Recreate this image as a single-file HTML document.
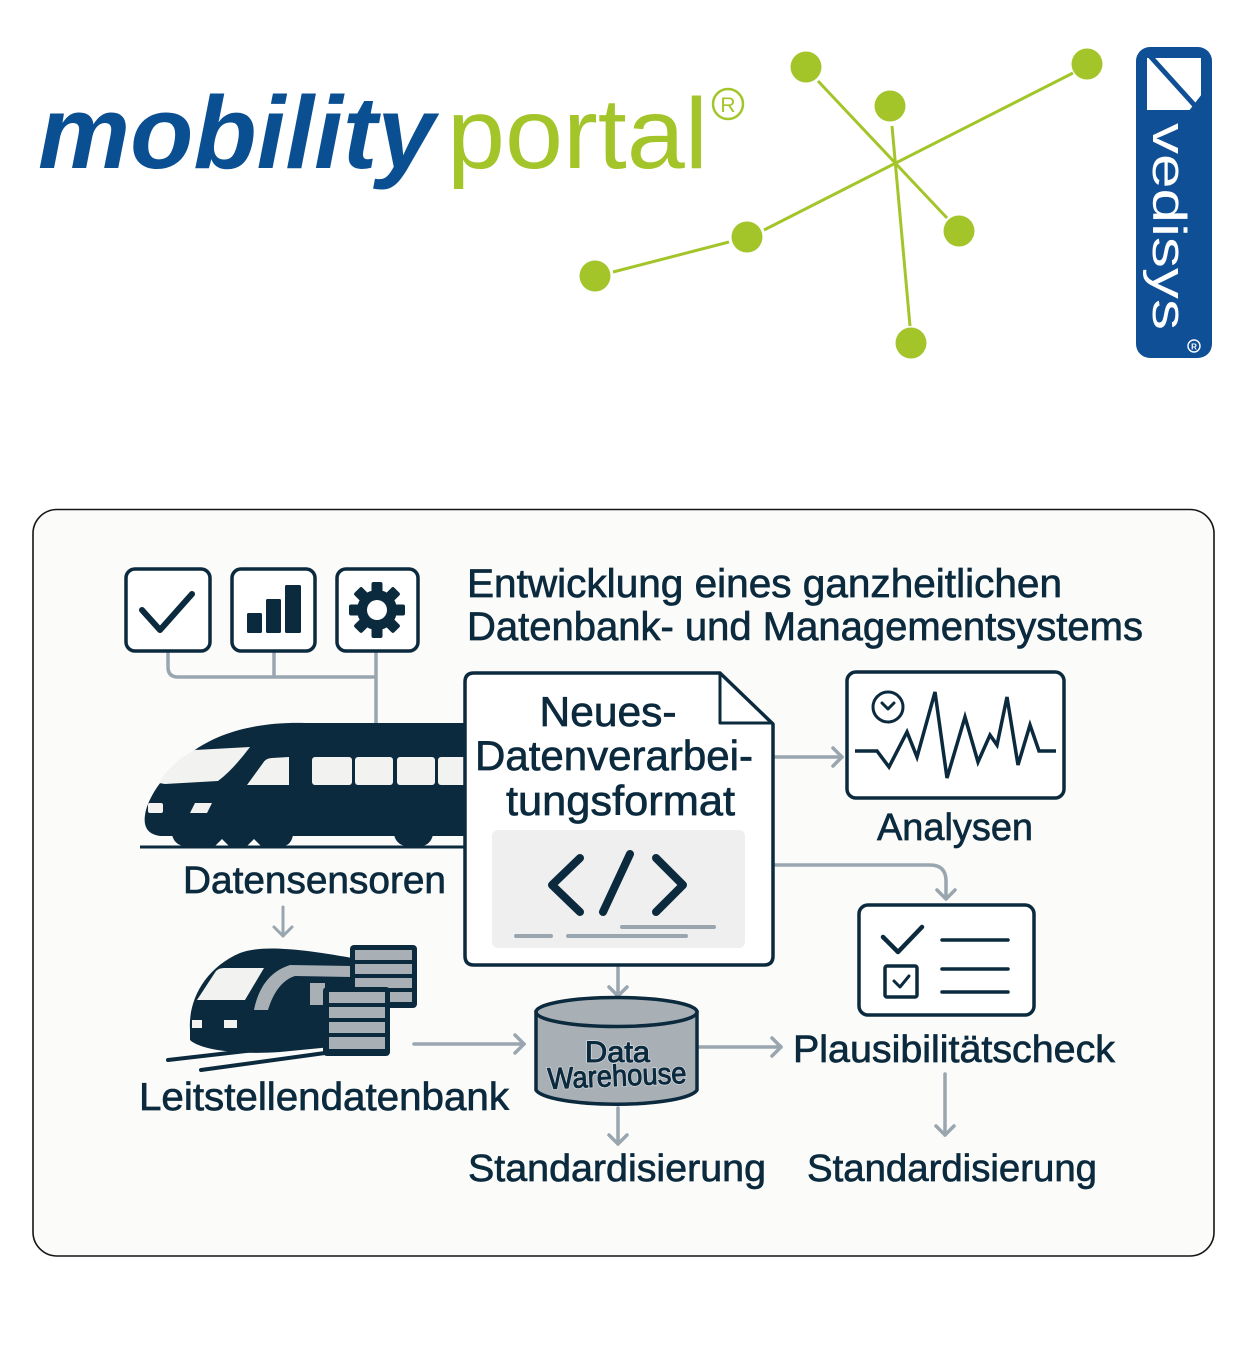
<!DOCTYPE html>
<html>
<head>
<meta charset="utf-8">
<style>
html,body{margin:0;padding:0;background:#ffffff;}
body{width:1240px;height:1358px;overflow:hidden;}
svg{display:block;}
text{font-family:"Liberation Sans",sans-serif;}
.lbl{fill:#0c2a3e;stroke:#0c2a3e;stroke-width:0.7;}
</style>
</head>
<body>
<svg width="1240" height="1358" viewBox="0 0 1240 1358" xmlns="http://www.w3.org/2000/svg">
  <rect x="0" y="0" width="1240" height="1358" fill="#ffffff"/>

  <!-- mobility portal logo -->
  <text x="38" y="168" font-size="103" font-weight="bold" font-style="italic" fill="#0b4f93" textLength="397" lengthAdjust="spacingAndGlyphs">mobility</text>
  <text x="447" y="168" font-size="100" fill="#a3c52a" textLength="261" lengthAdjust="spacingAndGlyphs">portal</text>
  <circle cx="728" cy="104" r="15" fill="none" stroke="#a3c52a" stroke-width="2.5"/>
  <text x="728" y="112" font-size="21" fill="#a3c52a" text-anchor="middle">R</text>

  <!-- green network -->
  <g stroke="#a3c52a" stroke-width="3" stroke-linecap="butt">
    <line x1="818" y1="81" x2="947" y2="218"/>
    <line x1="892" y1="126" x2="910" y2="326"/>
    <line x1="1073" y1="73" x2="764" y2="230"/>
    <line x1="729" y1="242" x2="613" y2="272"/>
  </g>
  <g fill="#a3c52a">
    <circle cx="806" cy="67" r="15.5"/>
    <circle cx="890" cy="106" r="15.5"/>
    <circle cx="1087" cy="64" r="15.5"/>
    <circle cx="747" cy="237" r="15.5"/>
    <circle cx="595" cy="276" r="15.5"/>
    <circle cx="959" cy="231" r="15.5"/>
    <circle cx="911" cy="343" r="15.5"/>
  </g>

  <!-- vedisys logo -->
  <rect x="1136" y="47" width="76" height="311" rx="14" fill="#0f4f96"/>
  <rect x="1147" y="58" width="54" height="52" fill="#ffffff"/>
  <line x1="1150" y1="56" x2="1197" y2="108" stroke="#0f4f96" stroke-width="5"/>
  <polygon points="1202,94 1202,112 1188,112" fill="#0f4f96"/>
  <text transform="translate(1153,123) rotate(90)" x="0" y="0" font-size="47" fill="#ffffff" textLength="207" lengthAdjust="spacingAndGlyphs">vedisys</text>
  <circle cx="1194" cy="346" r="6" fill="none" stroke="#ffffff" stroke-width="1.4"/>
  <text x="1194" y="349.5" font-size="8" fill="#ffffff" text-anchor="middle" font-weight="bold">R</text>

  <!-- panel -->
  <rect x="33" y="509.5" width="1181" height="746.5" rx="24" fill="#fbfbf9" stroke="#151515" stroke-width="1.6"/>

  <!-- connectors from icons -->
  <g fill="none" stroke="#9aa6af" stroke-width="3.5">
    <path d="M168 651 V667 Q168 677 178 677 H376"/>
    <path d="M274 651 V677"/>
    <path d="M376 651 V725"/>
  </g>

  <!-- icon boxes -->
  <g fill="#ffffff" stroke="#0c2a3e" stroke-width="3.5">
    <rect x="126" y="569" width="84" height="82" rx="9"/>
    <rect x="232" y="569" width="83" height="82" rx="9"/>
    <rect x="337" y="569" width="81" height="82" rx="9"/>
  </g>
  <polyline points="142,610 160,630 192,594" fill="none" stroke="#0c2a3e" stroke-width="6" stroke-linecap="round" stroke-linejoin="round"/>
  <g fill="#0c2a3e">
    <rect x="247" y="613" width="15" height="20" rx="1.5"/>
    <rect x="266" y="599" width="15" height="34" rx="1.5"/>
    <rect x="285" y="585" width="16" height="48" rx="1.5"/>
  </g>
  <g transform="translate(377,610)" fill="#0c2a3e">
    <circle r="20"/>
    <rect x="-5.5" y="-28" width="11" height="12" rx="2"/>
    <rect x="-5.5" y="-28" width="11" height="12" rx="2" transform="rotate(45)"/>
    <rect x="-5.5" y="-28" width="11" height="12" rx="2" transform="rotate(90)"/>
    <rect x="-5.5" y="-28" width="11" height="12" rx="2" transform="rotate(135)"/>
    <rect x="-5.5" y="-28" width="11" height="12" rx="2" transform="rotate(180)"/>
    <rect x="-5.5" y="-28" width="11" height="12" rx="2" transform="rotate(225)"/>
    <rect x="-5.5" y="-28" width="11" height="12" rx="2" transform="rotate(270)"/>
    <rect x="-5.5" y="-28" width="11" height="12" rx="2" transform="rotate(315)"/>
    <circle r="10" fill="#ffffff"/>
  </g>

  <!-- title -->
  <text class="lbl" x="467" y="597" font-size="40" textLength="595" lengthAdjust="spacingAndGlyphs">Entwicklung eines ganzheitlichen</text>
  <text class="lbl" x="467" y="640" font-size="40" textLength="676" lengthAdjust="spacingAndGlyphs">Datenbank- und Managementsystems</text>

  <!-- big train -->
  <path d="M470 723 L305 723 C262 722 222 730 192 752 C168 770 152 790 146 810 C142 826 147 834 160 836 L470 836 Z" fill="#0c2a3e"/>
  <path d="M172 835 Q175 846 186 846 L215 846 L222 839 L229 846 L247 846 L254 839 L261 846 L282 846 Q291 846 293 835 Z" fill="#0c2a3e"/>
  <path d="M394 835 Q397 846 408 846 L420 846 Q430 846 433 835 Z" fill="#0c2a3e"/>
  <line x1="140" y1="847" x2="466" y2="847" stroke="#0c2a3e" stroke-width="3"/>
  <g fill="#f2f2f1">
    <path d="M159 783 C165 772 178 758 195 750 L250 747 C240 760 230 772 218 781 L165 784 Z"/>
    <path d="M247 785 L263 763 Q266 758 272 758 L289 757 L289 785 Z"/>
    <rect x="312" y="757" width="40" height="28" rx="3"/>
    <rect x="355" y="757" width="38" height="28" rx="3"/>
    <rect x="397" y="757" width="38" height="28" rx="3"/>
    <rect x="438" y="757" width="30" height="28" rx="3"/>
    <rect x="148" y="803" width="15" height="10" rx="2"/>
    <path d="M195 803 L212 803 L207 813 L190 813 Z"/>
  </g>

  <!-- Datensensoren label & arrow -->
  <text class="lbl" x="183" y="893" font-size="38" textLength="263" lengthAdjust="spacingAndGlyphs">Datensensoren</text>
  <g fill="none" stroke="#9aa6af" stroke-width="3" stroke-linecap="round" stroke-linejoin="round">
    <path d="M283 907 V936"/>
    <path d="M274 927 L283 936 L292 927"/>
  </g>

  <!-- small train with databases -->
  <line x1="168" y1="1060" x2="325" y2="1042" stroke="#0c2a3e" stroke-width="4" stroke-linecap="round"/>
  <line x1="201" y1="1070" x2="325" y2="1053" stroke="#0c2a3e" stroke-width="4" stroke-linecap="round"/>
  <path d="M190 1030 C188 1000 205 968 240 953 C260 946 290 947 352 958 L352 1045 L280 1052 C240 1055 200 1050 190 1040 Z" fill="#0c2a3e"/>
  <path d="M197 1000 L216 971 Q219 968 224 968 L264 968 L245 1000 Z" fill="#f2f2f1"/>
  <rect x="192" y="1020" width="10" height="8" fill="#f2f2f1"/>
  <rect x="224" y="1020" width="13" height="8" fill="#f2f2f1"/>
  <path d="M254 1010 C258 990 268 972 290 965 L352 966 L352 977 L295 976 C282 980 273 993 268 1010 Z" fill="#a8b0b6"/>
  <rect x="310" y="983" width="15" height="22" fill="#a8b0b6"/>
  <rect x="350" y="945" width="67" height="63" rx="4" fill="#0c2a3e"/>
  <g fill="#a8b0b6">
    <rect x="355" y="950" width="57" height="10"/>
    <rect x="355" y="964" width="57" height="10"/>
    <rect x="355" y="978" width="57" height="10"/>
    <rect x="355" y="992" width="57" height="10"/>
  </g>
  <rect x="323" y="987" width="67" height="69" rx="4" fill="#0c2a3e"/>
  <g fill="#a8b0b6">
    <rect x="329" y="992" width="56" height="11"/>
    <rect x="329" y="1007" width="56" height="11"/>
    <rect x="329" y="1022" width="56" height="11"/>
    <rect x="329" y="1037" width="56" height="12"/>
  </g>
  <text class="lbl" x="139" y="1110" font-size="39" textLength="370" lengthAdjust="spacingAndGlyphs">Leitstellendatenbank</text>

  <!-- grey arrows -->
  <g fill="none" stroke="#9aa6af" stroke-width="3.5" stroke-linecap="round" stroke-linejoin="round">
    <path d="M414 1044 H524"/>
    <path d="M515 1035 L524 1044 L515 1053"/>
    <path d="M775 757 H842"/>
    <path d="M833 748 L842 757 L833 766"/>
    <path d="M775 865 H930 Q946 865 946 881 V898"/>
    <path d="M937 890 L946 899 L955 890"/>
    <path d="M618 966 V996"/>
    <path d="M609 987 L618 996 L627 987"/>
    <path d="M618 1108 V1144"/>
    <path d="M609 1135 L618 1144 L627 1135"/>
    <path d="M699 1047 H781"/>
    <path d="M772 1038 L781 1047 L772 1056"/>
    <path d="M945 1074 V1135"/>
    <path d="M936 1126 L945 1135 L954 1126"/>
  </g>

  <!-- document -->
  <path d="M474 673 H720 L773 724 V956 Q773 965 764 965 H474 Q465 965 465 956 V682 Q465 673 474 673 Z" fill="#ffffff" stroke="#0c2a3e" stroke-width="3.5" stroke-linejoin="round"/>
  <path d="M720 674 V723 H772" fill="none" stroke="#0c2a3e" stroke-width="3" stroke-linejoin="round"/>
  <text class="lbl" x="608" y="726" font-size="42" text-anchor="middle" textLength="137" lengthAdjust="spacingAndGlyphs">Neues-</text>
  <text class="lbl" x="475" y="770" font-size="42" textLength="278" lengthAdjust="spacingAndGlyphs">Datenverarbei-</text>
  <text class="lbl" x="506" y="815" font-size="42" textLength="229" lengthAdjust="spacingAndGlyphs">tungsformat</text>
  <rect x="492" y="830" width="253" height="118" rx="6" fill="#efefef"/>
  <g fill="none" stroke="#0c2a3e" stroke-width="8" stroke-linecap="round" stroke-linejoin="round">
    <path d="M580 858 L552 885 L580 912"/>
    <path d="M630 854 L603 912"/>
    <path d="M656 858 L683 885 L656 912"/>
  </g>
  <g stroke="#9aa6af" stroke-width="4" stroke-linecap="round">
    <line x1="516" y1="936" x2="551" y2="936"/>
    <line x1="568" y1="936" x2="686" y2="936"/>
    <line x1="622" y1="927" x2="714" y2="927"/>
  </g>

  <!-- Analysen box -->
  <rect x="847" y="672" width="217" height="126" rx="9" fill="#ffffff" stroke="#0c2a3e" stroke-width="3.5"/>
  <circle cx="888" cy="707" r="15" fill="none" stroke="#0c2a3e" stroke-width="3"/>
  <polyline points="882,703 888,709 894,703" fill="none" stroke="#0c2a3e" stroke-width="3" stroke-linecap="round" stroke-linejoin="round"/>
  <polyline points="855,751 877,751 889,767 907,732 917,757 935,692 947,778 965,717 978,762 990,735 997,745 1007,697 1018,765 1030,725 1039,751 1056,751" fill="none" stroke="#0c2a3e" stroke-width="3.5" stroke-linejoin="miter"/>
  <text class="lbl" x="877" y="840" font-size="38" textLength="156" lengthAdjust="spacingAndGlyphs">Analysen</text>

  <!-- checklist box -->
  <rect x="859" y="905" width="175" height="110" rx="9" fill="#ffffff" stroke="#0c2a3e" stroke-width="3.5"/>
  <polyline points="883,937 898,952 922,927" fill="none" stroke="#0c2a3e" stroke-width="4.5" stroke-linecap="round" stroke-linejoin="round"/>
  <rect x="885" y="966" width="32" height="31" rx="2" fill="none" stroke="#0c2a3e" stroke-width="3.5"/>
  <polyline points="894,981 900,987 909,976" fill="none" stroke="#0c2a3e" stroke-width="3" stroke-linecap="round" stroke-linejoin="round"/>
  <g stroke="#0c2a3e" stroke-width="3.5" stroke-linecap="round">
    <line x1="942" y1="940" x2="1008" y2="940"/>
    <line x1="942" y1="969" x2="1008" y2="969"/>
    <line x1="942" y1="992" x2="1008" y2="992"/>
  </g>

  <!-- Data Warehouse cylinder -->
  <path d="M536 1012 V1090 A81 16 0 0 0 697 1090 V1012 Z" fill="#a8b0b6" stroke="#0c2a3e" stroke-width="3.5"/>
  <ellipse cx="616.5" cy="1012" rx="80.5" ry="14.5" fill="#a8b0b6" stroke="#0c2a3e" stroke-width="3.5"/>
  <text x="585" y="1062" font-size="30" fill="#0c2a3e" stroke="#dfe3e6" stroke-width="2.2" paint-order="stroke" textLength="65" lengthAdjust="spacingAndGlyphs">Data</text>
  <text x="585" y="1062" font-size="30" fill="#0c2a3e" stroke="#0c2a3e" stroke-width="1" textLength="65" lengthAdjust="spacingAndGlyphs">Data</text>
  <text transform="translate(548,1089) rotate(-2.5)" x="0" y="0" font-size="30" fill="#0c2a3e" stroke="#dfe3e6" stroke-width="2.2" paint-order="stroke" textLength="139" lengthAdjust="spacingAndGlyphs">Warehouse</text>
  <text transform="translate(548,1089) rotate(-2.5)" x="0" y="0" font-size="30" fill="#0c2a3e" stroke="#0c2a3e" stroke-width="1" textLength="139" lengthAdjust="spacingAndGlyphs">Warehouse</text>

  <!-- labels -->
  <text class="lbl" x="793" y="1062" font-size="38" textLength="322" lengthAdjust="spacingAndGlyphs">Plausibilitätscheck</text>
  <text class="lbl" x="468" y="1181" font-size="38" textLength="298" lengthAdjust="spacingAndGlyphs">Standardisierung</text>
  <text class="lbl" x="807" y="1181" font-size="38" textLength="290" lengthAdjust="spacingAndGlyphs">Standardisierung</text>
</svg>
</body>
</html>
